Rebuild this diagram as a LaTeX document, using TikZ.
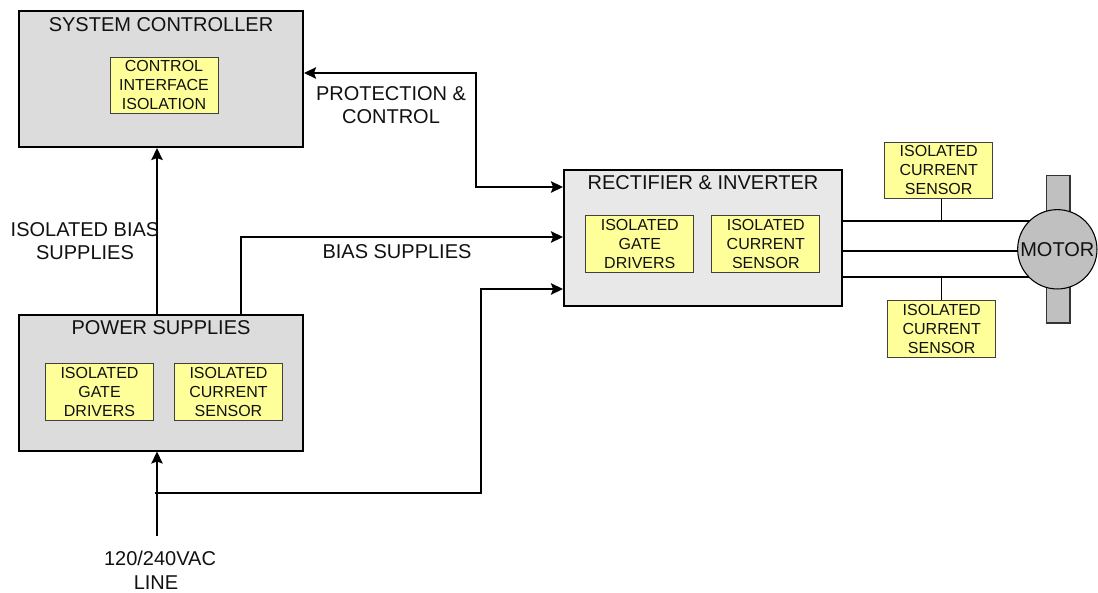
\documentclass[tikz,border=0pt]{standalone}
\usepackage{fontspec}
\setmainfont{Liberation Sans}
\usetikzlibrary{arrows.meta,calc}
\definecolor{blockgray}{HTML}{DCDCDC}
\definecolor{rectgray}{HTML}{E8E8E8}
\definecolor{motorgray}{HTML}{C0C0C0}
\definecolor{yel}{HTML}{FFFF99}
\definecolor{ink}{HTML}{111111}
\tikzset{
  big/.style={draw=black,line width=1.5pt,fill=blockgray,minimum width=213pt,minimum height=102pt,inner sep=0pt},
  bigtitle/.style={font=\fontsize{15}{16}\selectfont,text=ink,inner sep=0pt,anchor=center},
  yelbox/.style={draw=black!75,line width=0.6pt,fill=yel,minimum width=81pt,minimum height=42.4pt,inner sep=0pt,align=center,font=\fontsize{12}{14.2}\selectfont,text=ink},
  lab/.style={font=\fontsize{15}{17.8}\selectfont,align=center,inner sep=0pt,text=ink},
  wire/.style={line width=1.5pt,draw=black},
  arr/.style={wire,-{Stealth[length=9pt,width=8.5pt,inset=1.5pt]}},
  thinwire/.style={line width=0.8pt,draw=black}
}
\begin{document}
\begin{tikzpicture}[x=0.75pt,y=-0.75pt]
\useasboundingbox (0,0) rectangle (1098,592);
% blocks
\node[big] (sys) at (161,79) {};
\node[bigtitle] (systitle) at (161,25) {SYSTEM CONTROLLER};
\node[yelbox] (ctrl) at (164,85.3) {CONTROL\\INTERFACE\\ISOLATION};
\node[big] (pow) at (161,382.5) {};
\node[bigtitle] (powtitle) at (161,328) {POWER SUPPLIES};
\node[yelbox] (pgate) at (99.5,391.7) {ISOLATED\\GATE\\DRIVERS};
\node[yelbox] (pcur) at (228.5,391.7) {ISOLATED\\CURRENT\\SENSOR};
\node[big,fill=rectgray,minimum width=208.5pt] (rect) at (703,238) {};
\node[bigtitle] (recttitle) at (703,183) {RECTIFIER \& INVERTER};
\node[yelbox] (rgate) at (639.8,244) {ISOLATED\\GATE\\DRIVERS};
\node[yelbox] (rcur) at (765.8,244) {ISOLATED\\CURRENT\\SENSOR};
\node[yelbox] (stop) at (938.7,170.2) {ISOLATED\\CURRENT\\SENSOR};
\node[yelbox] (sbot) at (941.7,328.8) {ISOLATED\\CURRENT\\SENSOR};
% free ends
\coordinate (mc) at (1057.3,249.3);
\coordinate (ac) at (157,536);
\coordinate (tap) at (155,493);
\coordinate (busA) at (842,220.7);
\coordinate (busB) at (842,250.7);
\coordinate (busC) at (842,277.3);
% motor wires
\draw[wire] (busA) -- (mc |- busA);
\draw[wire] (busB) -- (mc |- busB);
\draw[wire] (busC) -- (mc |- busC);
\draw[thinwire] (sbot.north |- stop.south) -- (sbot.north |- busA);
\draw[thinwire] (sbot.north) -- (sbot.north |- busC);
% motor
\node[draw=black!80,line width=0.8pt,fill=motorgray,minimum width=17.5pt,minimum height=110.5pt,inner sep=0pt] (shaft) at (1058.3,249.3) {};
\node[circle,draw=black,line width=0.8pt,fill=motorgray,minimum size=59.5pt,inner sep=0pt,font=\fontsize{15}{16}\selectfont,text=ink] (motor) at (mc) {MOTOR};
% connectors
\draw[arr] (pow.north -| 157,0) -- (sys.south -| 157,0);
\draw[arr] (pow.north -| 241,0) |- (rect.west |- 0,237);
\draw[arr] (ac) -- (pow.south -| 157,0);
\draw[arr] (tap) -| (481,289) -- (rect.west |- 0,289);
\draw[wire,{Stealth[length=9pt,width=8.5pt,inset=1.5pt]}-{Stealth[length=9pt,width=8.5pt,inset=1.5pt]}] (sys.east |- 0,73) -| (476,187) -- (rect.west |- 0,187);
% labels
\node[lab] (lprot) at (391,105) {PROTECTION \&\\CONTROL};
\node[lab] (lbias) at (397,252) {BIAS SUPPLIES};
\node[lab] (liso) at (85,241) {ISOLATED BIAS\\SUPPLIES};
\node[lab] (lline) at (160,570.5) {120/240VAC\\LINE\hspace*{6pt}};
\end{tikzpicture}
\end{document}
